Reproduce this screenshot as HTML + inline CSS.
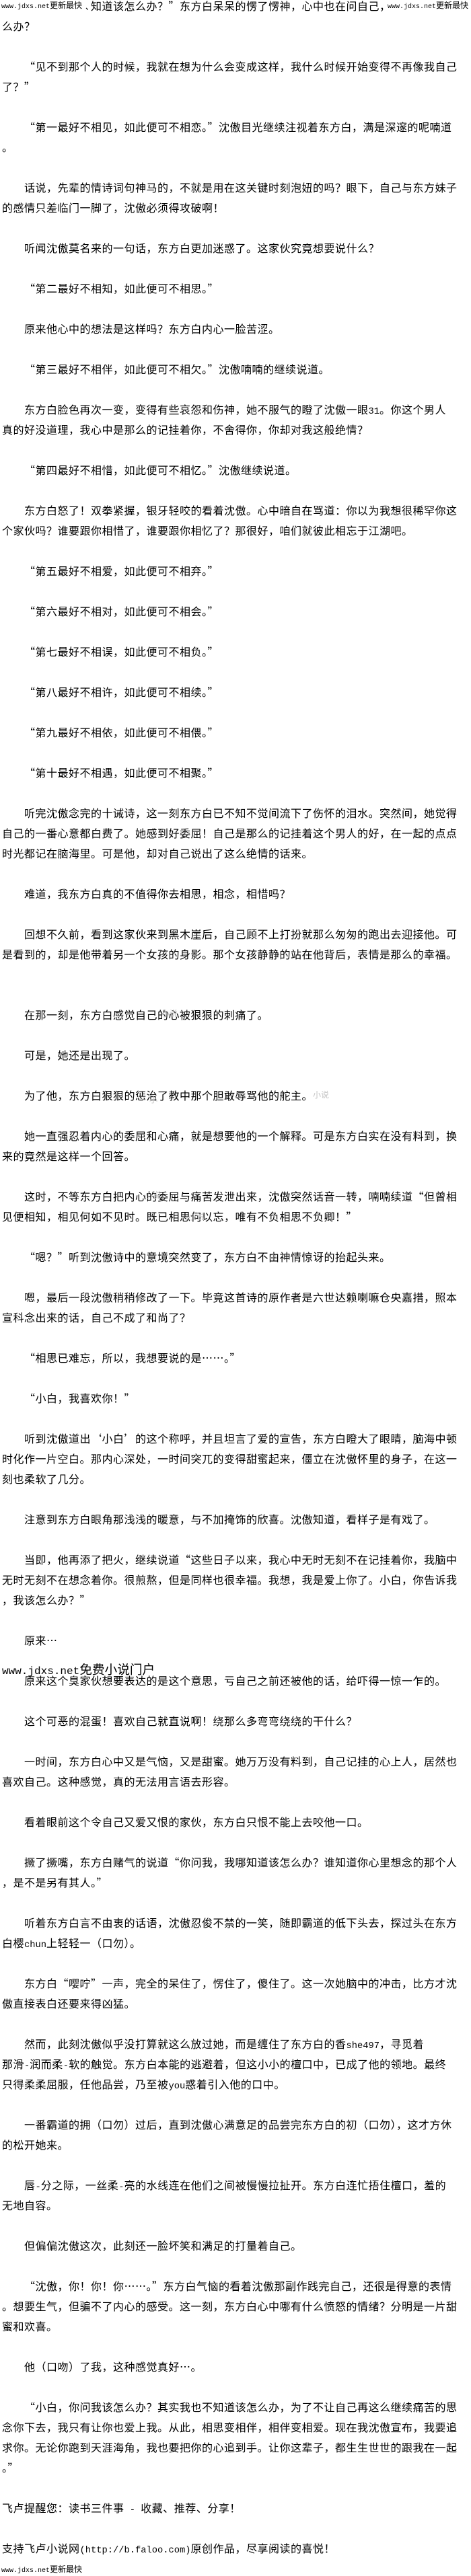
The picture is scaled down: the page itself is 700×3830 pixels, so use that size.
<!DOCTYPE html>
<html lang="zh-CN"><head><meta charset="utf-8"><title>reference</title>
<style>
html,body{margin:0;padding:0;background:#fff}
body{position:relative;width:700px;height:3830px;overflow:hidden;color:#000}
#t{position:absolute;left:0;top:-7px;width:700px;font:16px/30px "WenQuanYi Zen Hei","Noto Sans CJK SC",sans-serif;letter-spacing:.5px;white-space:nowrap}
#t div{height:30px;padding-left:3px}
#t div.n{padding-left:36px}
.m{font-family:"Liberation Mono",monospace;font-size:13.75px;letter-spacing:0}
.a{position:absolute;white-space:nowrap;font-family:"WenQuanYi Zen Hei","Noto Sans CJK SC",sans-serif;background:#fff}
.a b{font:inherit;font-family:"Liberation Mono",monospace;font-size:10px}
.s{font-size:12px;line-height:14px}
.g{position:absolute;white-space:nowrap;color:#c4c4c4;font:12px/14px "WenQuanYi Zen Hei","Noto Sans CJK SC",sans-serif}
</style></head><body>
<div id="t">
<div style="padding-left:135px">知道该怎么办？”东方白呆呆的愣了愣神，心中也在问自己，</div>
<div>么办？</div><div></div>
<div class="n">“见不到那个人的时候，我就在想为什么会变成这样，我什么时候开始变得不再像我自己</div>
<div>了？”</div><div></div>
<div class="n">“第一最好不相见，如此便可不相恋。”沈傲目光继续注视着东方白，满是深邃的呢喃道</div>
<div>。</div><div></div>
<div class="n">话说，先辈的情诗词句神马的，不就是用在这关键时刻泡妞的吗？眼下，自己与东方妹子</div>
<div>的感情只差临门一脚了，沈傲必须得攻破啊！</div><div></div>
<div class="n">听闻沈傲莫名来的一句话，东方白更加迷惑了。这家伙究竟想要说什么？</div><div></div>
<div class="n">“第二最好不相知，如此便可不相思。”</div><div></div>
<div class="n">原来他心中的想法是这样吗？东方白内心一脸苦涩。</div><div></div>
<div class="n">“第三最好不相伴，如此便可不相欠。”沈傲喃喃的继续说道。</div><div></div>
<div class="n">东方白脸色再次一变，变得有些哀怨和伤神，她不服气的瞪了沈傲一眼<span class="m">31</span>。你这个男人</div>
<div>真的好没道理，我心中是那么的记挂着你，不舍得你，你却对我这般绝情？</div><div></div>
<div class="n">“第四最好不相惜，如此便可不相忆。”沈傲继续说道。</div><div></div>
<div class="n">东方白怒了！双拳紧握，银牙轻咬的看着沈傲。心中暗自在骂道：你以为我想很稀罕你这</div>
<div>个家伙吗？谁要跟你相惜了，谁要跟你相忆了？那很好，咱们就彼此相忘于江湖吧。</div><div></div>
<div class="n">“第五最好不相爱，如此便可不相弃。”</div><div></div>
<div class="n">“第六最好不相对，如此便可不相会。”</div><div></div>
<div class="n">“第七最好不相误，如此便可不相负。”</div><div></div>
<div class="n">“第八最好不相许，如此便可不相续。”</div><div></div>
<div class="n">“第九最好不相依，如此便可不相偎。”</div><div></div>
<div class="n">“第十最好不相遇，如此便可不相聚。”</div><div></div>
<div class="n">听完沈傲念完的十诫诗，这一刻东方白已不知不觉间流下了伤怀的泪水。突然间，她觉得</div>
<div>自己的一番心意都白费了。她感到好委屈！自己是那么的记挂着这个男人的好，在一起的点点</div>
<div>时光都记在脑海里。可是他，却对自己说出了这么绝情的话来。</div><div></div>
<div class="n">难道，我东方白真的不值得你去相思，相念，相惜吗？</div><div></div>
<div class="n">回想不久前，看到这家伙来到黑木崖后，自己顾不上打扮就那么匆匆的跑出去迎接他。可</div>
<div>是看到的，却是他带着另一个女孩的身影。那个女孩静静的站在他背后，表情是那么的幸福。</div><div></div><div></div>
<div class="n">在那一刻，东方白感觉自己的心被狠狠的刺痛了。</div><div></div>
<div class="n">可是，她还是出现了。</div><div></div>
<div class="n">为了他，东方白狠狠的惩治了教中那个胆敢辱骂他的舵主。</div><div></div>
<div class="n">她一直强忍着内心的委屈和心痛，就是想要他的一个解释。可是东方白实在没有料到，换</div>
<div>来的竟然是这样一个回答。</div><div></div>
<div class="n">这时，不等东方白把内心的委屈与痛苦发泄出来，沈傲突然话音一转，喃喃续道“但曾相</div>
<div>见便相知，相见何如不见时。既已相思何以忘，唯有不负相思不负卿！”</div><div></div>
<div class="n">“嗯？”听到沈傲诗中的意境突然变了，东方白不由神情惊讶的抬起头来。</div><div></div>
<div class="n">嗯，最后一段沈傲稍稍修改了一下。毕竟这首诗的原作者是六世达赖喇嘛仓央嘉措，照本</div>
<div>宣科念出来的话，自己不成了和尚了？</div><div></div>
<div class="n">“相思已难忘，所以，我想要说的是……。”</div><div></div>
<div class="n">“小白，我喜欢你！”</div><div></div>
<div class="n">听到沈傲道出‘小白’的这个称呼，并且坦言了爱的宣告，东方白瞪大了眼睛，脑海中顿</div>
<div>时化作一片空白。那内心深处，一时间突兀的变得甜蜜起来，僵立在沈傲怀里的身子，在这一</div>
<div>刻也柔软了几分。</div><div></div>
<div class="n">注意到东方白眼角那浅浅的暖意，与不加掩饰的欣喜。沈傲知道，看样子是有戏了。</div><div></div>
<div class="n">当即，他再添了把火，继续说道“这些日子以来，我心中无时无刻不在记挂着你，我脑中</div>
<div>无时无刻不在想念着你。很煎熬，但是同样也很幸福。我想，我是爱上你了。小白，你告诉我</div>
<div>，我该怎么办？”</div><div></div>
<div class="n">原来…</div><div></div>
<div class="n">原来这个臭家伙想要表达的是这个意思，亏自己之前还被他的话，给吓得一惊一乍的。</div><div></div>
<div class="n">这个可恶的混蛋！喜欢自己就直说啊！绕那么多弯弯绕绕的干什么？</div><div></div>
<div class="n">一时间，东方白心中又是气恼，又是甜蜜。她万万没有料到，自己记挂的心上人，居然也</div>
<div>喜欢自己。这种感觉，真的无法用言语去形容。</div><div></div>
<div class="n">看着眼前这个令自己又爱又恨的家伙，东方白只恨不能上去咬他一口。</div><div></div>
<div class="n">撅了撅嘴，东方白赌气的说道“你问我，我哪知道该怎么办？谁知道你心里想念的那个人</div>
<div>，是不是另有其人。”</div><div></div>
<div class="n">听着东方白言不由衷的话语，沈傲忍俊不禁的一笑，随即霸道的低下头去，探过头在东方</div>
<div>白樱<span class="m">chun</span>上轻轻一（口勿）。</div><div></div>
<div class="n">东方白“嘤咛”一声，完全的呆住了，愣住了，傻住了。这一次她脑中的冲击，比方才沈</div>
<div>傲直接表白还要来得凶猛。</div><div></div>
<div class="n">然而，此刻沈傲似乎没打算就这么放过她，而是缠住了东方白的香<span class="m">she497</span>，寻觅着</div>
<div>那滑<span class="m">-</span>润而柔<span class="m">-</span>软的触觉。东方白本能的逃避着，但这小小的檀口中，已成了他的领地。最终</div>
<div>只得柔柔屈服，任他品尝，乃至被<span class="m">you</span>惑着引入他的口中。</div><div></div>
<div class="n">一番霸道的拥（口勿）过后，直到沈傲心满意足的品尝完东方白的初（口勿），这才方休</div>
<div>的松开她来。</div><div></div>
<div class="n">唇<span class="m">-</span>分之际，一丝柔<span class="m">-</span>亮的水线连在他们之间被慢慢拉扯开。东方白连忙捂住檀口，羞的</div>
<div>无地自容。</div><div></div>
<div class="n">但偏偏沈傲这次，此刻还一脸坏笑和满足的打量着自己。</div><div></div>
<div class="n">“沈傲，你！你！你……。”东方白气恼的看着沈傲那副作践完自己，还很是得意的表情</div>
<div>。想要生气，但骗不了内心的感受。这一刻，东方白心中哪有什么愤怒的情绪？分明是一片甜</div>
<div>蜜和欢喜。</div><div></div>
<div class="n">他（口吻）了我，这种感觉真好…。</div><div></div>
<div class="n">“小白，你问我该怎么办？其实我也不知道该怎么办，为了不让自己再这么继续痛苦的思</div>
<div>念你下去，我只有让你也爱上我。从此，相思变相伴，相伴变相爱。现在我沈傲宣布，我要追</div>
<div>求你。无论你跑到天涯海角，我也要把你的心追到手。让你这辈子，都生生世世的跟我在一起</div>
<div>。”</div><div></div>
<div>飞卢提醒您：读书三件事<span class="m"> - </span>收藏、推荐、分享！</div><div></div>
<div>支持飞卢小说网<span class="m">(http://b.faloo.com)</span>原创作品，尽享阅读的喜悦！</div>
</div>
<div class="a s" style="left:2px;top:1px"><b style="font-size:10px;">www.jdxs.net</b>更新最快</div>
<div class="a s" style="left:127px;top:3px;background:none;">、</div>
<div class="a s" style="left:576px;top:1px;background:none"><b>www.jdxs.net</b>更新最快</div>
<div class="a" style="left:3px;top:2471px;font-size:18.67px;line-height:22px;background:none"><b style="font-size:16px">www.jdxs.net</b>免费小说门户</div>
<div class="a s" style="left:2px;top:3813px;background:none"><b>www.jdxs.net</b>更新最快</div>
<div class="g" style="left:240px;top:1500px">小说</div>
<div class="g" style="left:465px;top:1621px">小说</div>
<div class="g" style="left:222px;top:1628px">小</div>
<div class="g" style="left:215px;top:1770px">小说</div>
<div class="g" style="left:280px;top:1802px">小说</div>
<div class="g" style="left:400px;top:1862px">小</div>
</body></html>
